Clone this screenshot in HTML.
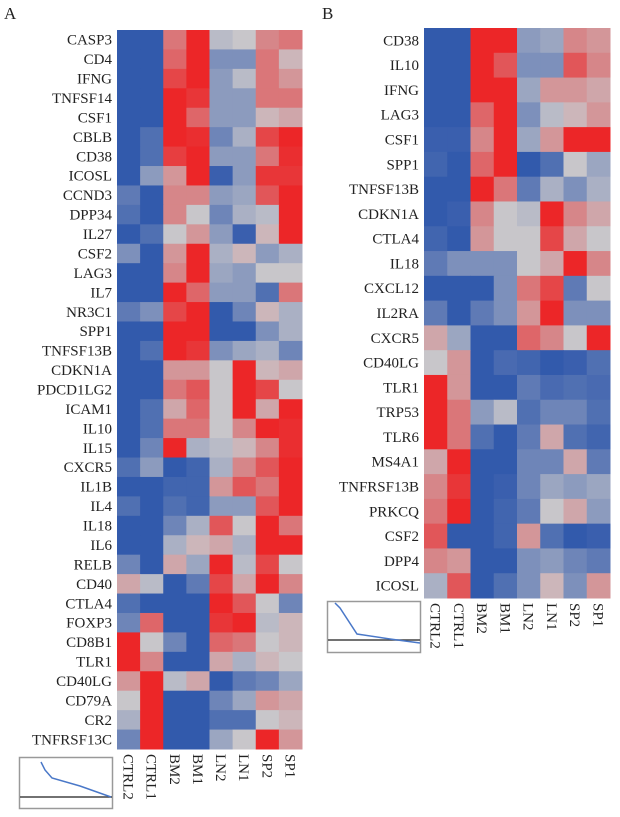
<!DOCTYPE html>
<html><head><meta charset="utf-8"><style>
html,body{margin:0;padding:0;background:#fff;}
svg{display:block;font-family:"Liberation Serif",serif;}
</style></head><body>
<svg id="c" width="620" height="817" viewBox="0 0 620 817">
<text x="4" y="19" font-size="17" fill="#222">A</text>
<text x="322" y="19" font-size="17" fill="#222">B</text>
<g id="ga"></g>
<g id="gb"></g>
<g>
<rect x="19.5" y="757.5" width="93" height="51" fill="none" stroke="#999" stroke-width="1.5"/>
<line x1="20" y1="797" x2="112" y2="797" stroke="#444" stroke-width="1.5"/>
<polyline points="41,762 45,770 52,778 80,786 111,797" fill="none" stroke="#4a78c8" stroke-width="1.5"/>
</g>
<g>
<rect x="327.5" y="601.5" width="93" height="51" fill="none" stroke="#999" stroke-width="1.5"/>
<line x1="328" y1="640" x2="420" y2="640" stroke="#444" stroke-width="1.5"/>
<polyline points="335,603 340,608 357,634 390,639 420,643" fill="none" stroke="#4a78c8" stroke-width="1.5"/>
</g>
</svg>
<script>
const cols = ["CTRL2","CTRL1","BM2","BM1","LN2","LN1","SP2","SP1"];
const rowsA = ["CASP3","CD4","IFNG","TNFSF14","CSF1","CBLB","CD38","ICOSL","CCND3","DPP34","IL27","CSF2","LAG3","IL7","NR3C1","SPP1","TNFSF13B","CDKN1A","PDCD1LG2","ICAM1","IL10","IL15","CXCR5","IL1B","IL4","IL18","IL6","RELB","CD40","CTLA4","FOXP3","CD8B1","TLR1","CD40LG","CD79A","CR2","TNFRSF13C"];
const valsA = [
[-1,-1,.5,1,-.1,0,.4,.5],[-1,-1,.6,1,-.5,-.5,.5,.1],[-1,-1,.8,1,-.4,-.1,.5,.3],[-1,-1,1,.9,-.4,-.4,.5,.5],
[-1,-1,1,.6,-.4,-.4,.1,.2],[-1,-.8,1,.95,-.6,-.2,.8,1],[-1,-.8,.85,1,-.4,-.4,.5,.95],[-1,-.4,.3,1,-.95,-.4,.9,.9],
[-.7,-1,.4,.4,-.4,-.3,.7,1],[-.8,-1,.4,0,-.6,-.2,-.1,1],[-1,-.8,0,.3,-.4,-.95,.1,1],[-.5,-1,.3,1,-.2,.1,-.4,-.2],
[-1,-1,.4,1,-.3,-.4,0,0],[-1,-1,1,.6,-.4,-.4,-.8,.5],[-.7,-.5,.8,1,-1,-.6,.1,-.2],[-1,-1,1,1,-1,-1,-.5,-.2],
[-1,-.8,1,.9,-.5,-.3,-.2,-.6],[-1,-1,.3,.3,0,1,.1,.2],[-1,-1,.5,.7,0,1,.8,0],[-1,-.8,.2,.6,0,1,.2,1],
[-1,-.8,.5,.5,0,.4,1,.95],[-1,-.6,1,-.2,-.1,.1,.4,.95],[-.8,-.4,-1,-.9,-.2,.4,.7,1],[-1,-1,-.9,-.9,.3,.7,.5,1],
[-.8,-1,-.8,-.9,-.4,-.4,.7,1],[-1,-1,-.6,-.2,.7,0,1,.5],[-1,-1,-.2,.1,.2,-.2,1,1],[-.6,-1,.2,-.3,1,-.1,.8,0],
[.2,-.1,-1,-.7,.8,.2,1,.4],[-.8,-1,-1,-1,1,.7,0,-.6],[-.6,.6,-1,-1,.9,1,-.1,.1],[1,0,-.6,-1,.6,.5,0,.1],
[1,.4,-1,-1,.2,-.2,.1,0],[.3,1,-.1,.2,-1,-.7,-.6,-.3],[0,1,-1,-1,-.6,-.3,.3,.2],[-.2,1,-1,-1,-.8,-.8,0,.1],
[-.6,1,-1,-1,-.3,0,1,.3]];
const rowsB = ["CD38","IL10","IFNG","LAG3","CSF1","SPP1","TNFSF13B","CDKN1A","CTLA4","IL18","CXCL12","IL2RA","CXCR5","CD40LG","TLR1","TRP53","TLR6","MS4A1","TNFRSF13B","PRKCQ","CSF2","DPP4","ICOSL"];
const valsB = [
[-1,-1,1,1,-.4,-.3,.4,.3],[-1,-1,1,.7,-.5,-.5,.7,.4],[-1,-1,1,1,-.3,.3,.3,.2],[-1,-1,.6,1,-.5,-.1,.1,.3],
[-.95,-.95,.4,1,-.3,.3,1,1],[-.9,-1,.6,1,-1,-.8,0,-.3],[-1,-1,1,.5,-.7,-.2,-.5,-.2],[-1,-.95,.4,0,-.1,1,.4,.2],
[-.9,-1,.3,0,0,.8,.2,0],[-.7,-.5,-.5,-.5,0,.2,1,.4],[-1,-1,-1,-.5,.5,.8,-.7,0],[-.7,-1,-.7,-.5,.3,1,-.5,-.5],
[.2,-.3,-1,-1,.6,.4,0,1],[0,.3,-1,-.85,-.9,-1,-.95,-.8],[1,.3,-1,-1,-.7,-.85,-.8,-.85],[1,.5,-.4,-.1,-.8,-.6,-.6,-.8],
[1,.5,-.8,-1,-.7,.2,-.8,-.9],[.2,1,-1,-1,-.6,-.6,.2,-.7],[.4,.9,-1,-.95,-.6,-.3,-.4,-.3],[.5,1,-1,-.9,-.7,0,.2,-.4],
[.7,-1,-1,-.9,.3,-.8,-1,-.95],[.4,.3,-1,-1,-.5,-.4,-.6,-.7],[-.2,.7,-1,-.8,-.5,.1,-.5,.3]];

const NS="http://www.w3.org/2000/svg";
function color(v){
  const B=[50,90,172],G=[200,198,202],R=[236,38,40];
  const t=Math.min(1,Math.abs(v)),T=v<0?B:R;
  return "rgb("+G.map((g,i)=>Math.round(g+(T[i]-g)*t)).join(",")+")";
}
function draw(g,rows,vals,x0,x1,y0,y1,prefix){
  const cw=(x1-x0)/cols.length, rh=(y1-y0)/rows.length;
  const xs=i=>x0+i*cw, ys=j=>y0+j*rh;
  rows.forEach((r,j)=>{
    vals[j].forEach((v,i)=>{
      const el=document.createElementNS(NS,"rect");
      el.setAttribute("x",xs(i));el.setAttribute("y",ys(j));
      el.setAttribute("width",cw+0.5);el.setAttribute("height",rh+0.5);
      el.setAttribute("fill",color(v));
      
      
      g.appendChild(el);
    });
    const t=document.createElementNS(NS,"text");
    t.setAttribute("x",x0-5);t.setAttribute("y",ys(j)+rh/2+5);
    t.setAttribute("text-anchor","end");t.setAttribute("font-size","15");t.setAttribute("fill","#222");
    t.textContent=r;
    
    
    g.appendChild(t);
  });
  cols.forEach((c,i)=>{
    const t=document.createElementNS(NS,"text");
    const cx=xs(i)+cw/2-5, cy=y1+5;
    t.setAttribute("x",cx);t.setAttribute("y",cy);
    t.setAttribute("transform","rotate(90 "+cx+" "+cy+")");
    t.setAttribute("font-size","15");t.setAttribute("fill","#222");
    t.textContent=c;
    
    
    g.appendChild(t);
  });
}
draw(document.getElementById("ga"),rowsA,valsA,117,302,30,749,"a");
draw(document.getElementById("gb"),rowsB,valsB,424,610,28,598,"b");
</script>
</body></html>
